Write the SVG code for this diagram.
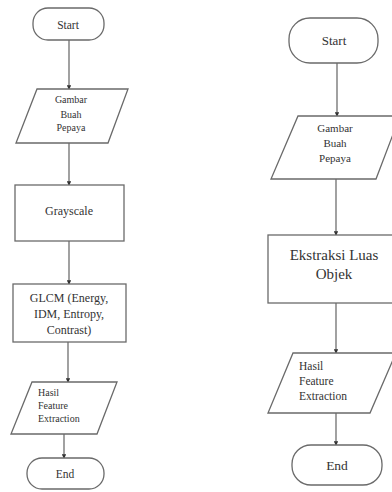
<svg xmlns="http://www.w3.org/2000/svg" width="392" height="492" viewBox="0 0 392 492">
<style>
.s{fill:#fff;stroke:#6a6a6a;stroke-width:1.3}
.c{fill:none;stroke:#555;stroke-width:1.1}
text{font-family:"Liberation Serif","Times New Roman",serif;fill:#333}
.m{text-anchor:middle}
</style>
<defs>
<marker id="a" viewBox="0 0 6 6" refX="5" refY="3" markerWidth="4" markerHeight="4" orient="auto">
<path d="M0,0 L6,3 L0,6 z" fill="#333"/>
</marker>
</defs>
<rect width="392" height="492" fill="#fff"/>
<g id="connectors">
<line class="c" x1="69" y1="40" x2="69" y2="89" marker-end="url(#a)"/>
<line class="c" x1="69" y1="143" x2="69" y2="185" marker-end="url(#a)"/>
<line class="c" x1="69" y1="241" x2="69" y2="284" marker-end="url(#a)"/>
<line class="c" x1="68" y1="342" x2="68" y2="382" marker-end="url(#a)"/>
<line class="c" x1="64" y1="434" x2="64" y2="458" marker-end="url(#a)"/>
<line class="c" x1="337" y1="63" x2="337" y2="116" marker-end="url(#a)"/>
<line class="c" x1="336" y1="179" x2="336" y2="235" marker-end="url(#a)"/>
<line class="c" x1="336" y1="303" x2="336" y2="353" marker-end="url(#a)"/>
<line class="c" x1="336" y1="413" x2="336" y2="445" marker-end="url(#a)"/>
</g>
<g id="start1"><rect class="s" x="33" y="8" width="71" height="32" rx="15"/><text class="m" x="68" y="29" font-size="11.5">Start</text></g>
<g id="input1"><polygon class="s" points="37,89 128,89 108,143 16,143"/>
<text class="m" font-size="10"><tspan x="71" y="103">Gambar</tspan><tspan x="71" y="118">Buah</tspan><tspan x="71" y="131">Pepaya</tspan></text></g>
<g id="gray"><rect class="s" x="15" y="185" width="109" height="56"/><text class="m" x="69" y="215" font-size="12">Grayscale</text></g>
<g id="glcm"><rect class="s" x="13" y="284" width="113" height="58"/>
<text class="m" font-size="12"><tspan x="69" y="302">GLCM (Energy,</tspan><tspan x="69" y="318">IDM, Entropy,</tspan><tspan x="69" y="334">Contrast)</tspan></text></g>
<g id="output1"><polygon class="s" points="32,382 117,382 97,434 11,434"/>
<text font-size="10"><tspan x="38" y="396">Hasil</tspan><tspan x="38" y="409">Feature</tspan><tspan x="38" y="422">Extraction</tspan></text></g>
<g id="end1"><rect class="s" x="27" y="458" width="77" height="31" rx="15"/><text class="m" x="65" y="478" font-size="11.5">End</text></g>
<g id="start2"><rect class="s" x="289" y="18" width="89" height="45" rx="21"/><text class="m" x="334" y="45" font-size="13">Start</text></g>
<g id="input2"><polygon class="s" points="298,116 400,116 376,179 271,179"/>
<text class="m" font-size="11"><tspan x="335" y="132">Gambar</tspan><tspan x="335" y="147">Buah</tspan><tspan x="335" y="162">Pepaya</tspan></text></g>
<g id="ekstraksi"><rect class="s" x="268" y="235" width="130" height="68"/>
<text class="m" font-size="15"><tspan x="334" y="260">Ekstraksi Luas</tspan><tspan x="334" y="279">Objek</tspan></text></g>
<g id="output2"><polygon class="s" points="293,353 396,353 370,413 268,413"/>
<text font-size="11.5"><tspan x="299" y="370">Hasil</tspan><tspan x="299" y="385">Feature</tspan><tspan x="299" y="400">Extraction</tspan></text></g>
<g id="end2"><rect class="s" x="292" y="445" width="90" height="40" rx="19"/><text class="m" x="337" y="470" font-size="13.5">End</text></g>
</svg>
